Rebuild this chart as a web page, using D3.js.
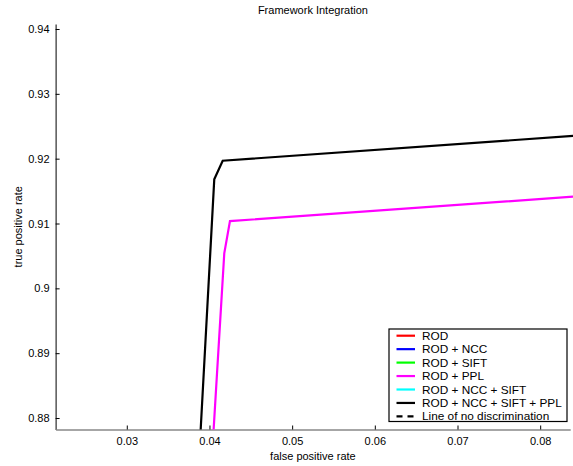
<!DOCTYPE html>
<html>
<head>
<meta charset="utf-8">
<script src="https://cdn.jsdelivr.net/npm/d3@7/dist/d3.min.js"></script>
<style>
  html, body { margin: 0; padding: 0; background: #fff; }
  svg { display: block; font-family: "Liberation Sans", Arial, Helvetica, sans-serif; }
</style>
</head>
<body>
<svg id="chart" width="573" height="466"></svg>
<script>
// ---- data ----
const xTicks = [0.03, 0.04, 0.05, 0.06, 0.07, 0.08];
const yTicks = [0.88, 0.89, 0.9, 0.91, 0.92, 0.93, 0.94];
const xDomain = [0.02139, 0.08363];
const yDomain = [0.87823, 0.94077];

// ROD + NCC + SIFT + PPL (black)
const fullFpr = [0.03880, 0.04058, 0.04160, 0.08400];
const fullTpr = [0.87500, 0.91681, 0.91968, 0.92352];
// ROD + PPL (magenta)
const pplFpr = [0.04035, 0.04179, 0.04248, 0.08400];
const pplTpr = [0.87500, 0.90539, 0.91037, 0.91414];

const legendLabels = ["ROD", "ROD + NCC", "ROD + SIFT", "ROD + PPL", "ROD + NCC + SIFT", "ROD + NCC + SIFT + PPL", "Line of no discrimination"];
const legendColors = ["#ff0000", "#0000ff", "#00ff00", "#ff00ff", "#00ffff", "#000000", "#000000"];
const legendDashed = [false, false, false, false, false, false, true];

// ---- chart ----
const svg = d3.select("#chart");
const L = 55.6, R = 570.2, T = 24, B = 429.5;

const x = d3.scaleLinear().domain(xDomain).range([L, R]);
const y = d3.scaleLinear().domain(yDomain).range([B, T]);

svg.append("defs").append("clipPath").attr("id", "clip")
  .append("rect").attr("x", L).attr("y", T).attr("width", 573 - L).attr("height", B - T);

// title
svg.append("text").attr("x", (L + R) / 2).attr("y", 14)
  .attr("text-anchor", "middle").attr("font-size", 11).attr("fill", "#000")
  .text("Framework Integration");

// y axis
const yAxis = d3.axisLeft(y).tickValues(yTicks).tickSizeInner(-4).tickSizeOuter(0)
  .tickPadding(6).tickFormat(d => String(+d.toFixed(2)));
const gy = svg.append("g").attr("transform", `translate(${L},0)`).call(yAxis);
gy.select(".domain").attr("stroke", "#000").attr("stroke-width", 1);
gy.selectAll(".tick line").attr("stroke", "#000");
gy.selectAll(".tick text").attr("font-size", 11).attr("fill", "#000")
  .attr("font-family", "Liberation Sans, Arial, sans-serif");

// x axis
const xAxis = d3.axisBottom(x).tickValues(xTicks).tickSizeInner(-4).tickSizeOuter(0)
  .tickPadding(8).tickFormat(d => String(+d.toFixed(2)));
const gx = svg.append("g").attr("transform", `translate(0,${B})`).call(xAxis);
gx.select(".domain").attr("stroke", "#888").attr("stroke-width", 1.6);
gx.selectAll(".tick line").attr("stroke", "#000");
gx.selectAll(".tick text").attr("font-size", 11).attr("fill", "#000")
  .attr("font-family", "Liberation Sans, Arial, sans-serif");

// axis labels
svg.append("text").attr("x", (L + R) / 2).attr("y", 460)
  .attr("text-anchor", "middle").attr("font-size", 11).text("false positive rate");
svg.append("text").attr("transform", `translate(22,${(T + B) / 2}) rotate(-90)`)
  .attr("text-anchor", "middle").attr("font-size", 11).text("true positive rate");

// lines
const line = d3.line().x(d => x(d[0])).y(d => y(d[1]));
const plot = svg.append("g").attr("clip-path", "url(#clip)");
plot.append("path").datum(d3.zip(pplFpr, pplTpr)).attr("d", line)
  .attr("fill", "none").attr("stroke", "#ff00ff").attr("stroke-width", 2.2).attr("stroke-linejoin", "miter");
plot.append("path").datum(d3.zip(fullFpr, fullTpr)).attr("d", line)
  .attr("fill", "none").attr("stroke", "#000").attr("stroke-width", 2.2).attr("stroke-linejoin", "miter");

// legend
const lg = svg.append("g");
const lx = 389, ly = 329, lw = 178, lh = 92.5;
lg.append("rect").attr("x", lx).attr("y", ly).attr("width", lw).attr("height", lh)
  .attr("fill", "#fff").attr("stroke", "#000").attr("stroke-width", 1.2);
const rowY = i => 335.7 + i * 13.45;
legendLabels.forEach((lab, i) => {
  const yy = rowY(i);
  lg.append("line").attr("x1", 396.5).attr("x2", 415).attr("y1", yy).attr("y2", yy)
    .attr("stroke", legendColors[i]).attr("stroke-width", 2.2)
    .attr("stroke-dasharray", legendDashed[i] ? "6,5" : null);
  lg.append("text").attr("x", 422).attr("y", yy + 4).attr("font-size", 11.8).attr("fill", "#000").text(lab);
});
</script>
</body>
</html>
